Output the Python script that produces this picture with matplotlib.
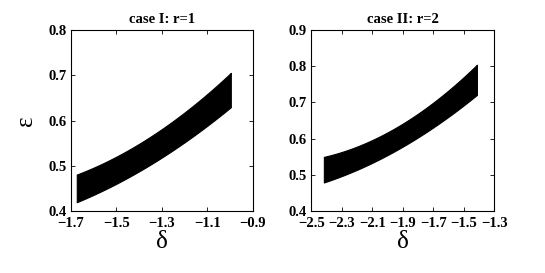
import matplotlib
matplotlib.use("Agg")
import matplotlib.pyplot as plt
import numpy as np

# Case I: r=1
d1 = [-1.674, -1.5, -1.3, -1.1, -0.997]
e1_up = [0.479, 0.523, 0.582, 0.653, 0.709]
e1_lo = [0.420, 0.459, 0.519, 0.589, 0.629]

# Case II: r=2
d2 = [-2.417, -2.3, -2.1, -1.9, -1.7, -1.5, -1.414]
e2_up = [0.545, 0.566, 0.601, 0.644, 0.694, 0.759, 0.815]
e2_lo = [0.477, 0.498, 0.535, 0.578, 0.628, 0.692, 0.722]

titles = ["case I: r=1", "case II: r=2"]
xticks1 = [-1.7, -1.5, -1.3, -1.1, -0.9]
yticks1 = [0.4, 0.5, 0.6, 0.7, 0.8]
xticks2 = [-2.5, -2.3, -2.1, -1.9, -1.7, -1.5, -1.3]
yticks2 = [0.4, 0.5, 0.6, 0.7, 0.8, 0.9]


def smooth(x, y, deg=2, n=200):
    c = np.polyfit(x, y, deg)
    xs = np.linspace(x[0], x[-1], n)
    return xs, np.polyval(c, xs)


plt.rcParams['font.family'] = ['Liberation Serif', 'DejaVu Serif']

fig = plt.figure(figsize=(5.45, 2.73), dpi=100)
ax1 = fig.add_axes([0.130, 0.227, 0.334, 0.663])
ax2 = fig.add_axes([0.571, 0.227, 0.336, 0.663])

for ax, d, up, lo, t, xt, yt in [
    (ax1, d1, e1_up, e1_lo, titles[0], xticks1, yticks1),
    (ax2, d2, e2_up, e2_lo, titles[1], xticks2, yticks2),
]:
    xs, yu = smooth(d, up)
    _, yl = smooth(d, lo)
    ax.fill_between(xs, yl, yu, color='black', linewidth=0.8, edgecolor='black')
    ax.set_xlim(xt[0], xt[-1])
    ax.set_ylim(yt[0], yt[-1])
    ax.set_xticks(xt)
    ax.set_yticks(yt)
    ax.set_xticklabels([("\u2212" + f"{abs(v):g}") for v in xt], fontweight='bold', fontsize=10.5)
    ax.set_yticklabels([f"{v:g}" for v in yt], fontweight='bold', fontsize=10.5)
    ax.tick_params(axis='x', direction='in', top=True, length=3, width=0.6, pad=4)
    ax.tick_params(axis='y', direction='in', right=True, length=3, width=0.6, pad=3)
    for s in ax.spines.values():
        s.set_linewidth(0.8)
    ax.set_title(t, fontweight='bold', fontsize=10.5, pad=5)
    ax.set_xlabel("δ", fontsize=18, labelpad=1)

ax1.set_ylabel("ε", fontsize=18, labelpad=8)

fig.savefig("out.png", dpi=100)
